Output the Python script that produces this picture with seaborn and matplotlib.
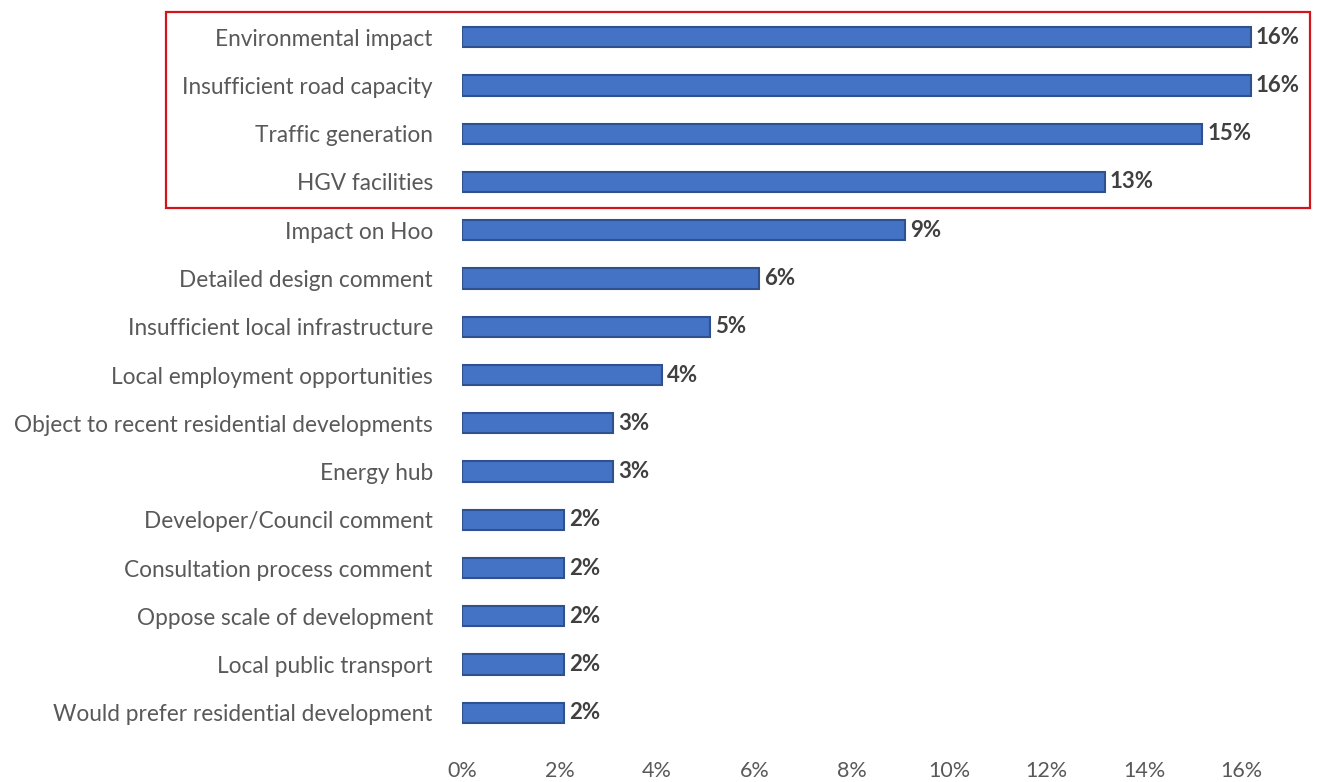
import matplotlib
matplotlib.use("Agg")
import matplotlib.pyplot as plt
import seaborn as sns
import pandas as pd
from matplotlib.patches import Rectangle

categories = [
    "Environmental impact",
    "Insufficient road capacity",
    "Traffic generation",
    "HGV facilities",
    "Impact on Hoo",
    "Detailed design comment",
    "Insufficient local infrastructure",
    "Local employment opportunities",
    "Object to recent residential developments",
    "Energy hub",
    "Developer/Council comment",
    "Consultation process comment",
    "Oppose scale of development",
    "Local public transport",
    "Would prefer residential development",
]
values = [16.2, 16.2, 15.2, 13.2, 9.1, 6.1, 5.1, 4.1, 3.1, 3.1, 2.1, 2.1, 2.1, 2.1, 2.1]
labels = ["16%", "16%", "15%", "13%", "9%", "6%", "5%", "4%", "3%", "3%", "2%", "2%", "2%", "2%", "2%"]
xticks = [0, 2, 4, 6, 8, 10, 12, 14, 16]

sns.set_theme(style="white")
plt.rcParams["font.family"] = ["Lato", "DejaVu Sans"]

df = pd.DataFrame({"category": categories, "value": values})

fig = plt.figure(figsize=(13.17, 7.82), dpi=100)
ax = fig.add_axes([462 / 1317, 1 - 737 / 782, (1295 - 462) / 1317, (737 - 13) / 782])

sns.barplot(data=df, y="category", x="value", orient="h", ax=ax,
            color="#4472C4", saturation=1, width=0.42,
            edgecolor="#2F528F", linewidth=1.5)

for i, (v, lab) in enumerate(zip(values, labels)):
    ax.text(v + 0.1, i, lab, va="center", ha="left", fontsize=16,
            fontweight="bold", color="#404040")

ax.set_xlim(0, 17.1)
ax.set_ylim(14.5, -0.5)
ax.set_xticks(xticks)
ax.set_xticklabels([f"{t}%" for t in xticks], fontsize=15.5, color="#595959")
ax.tick_params(axis="x", pad=17, length=0)
ax.tick_params(axis="y", labelsize=16.3, labelcolor="#595959", length=0, pad=21)
ax.set_xlabel("")
ax.set_ylabel("")
for s in ax.spines.values():
    s.set_visible(False)

fig.patches.append(Rectangle((166 / 1317, 1 - 208 / 782), (1310 - 166) / 1317, (208 - 12) / 782,
                             transform=fig.transFigure, fill=False,
                             edgecolor="#D0151B", linewidth=1.6))

fig.savefig("out.png", dpi=100)
